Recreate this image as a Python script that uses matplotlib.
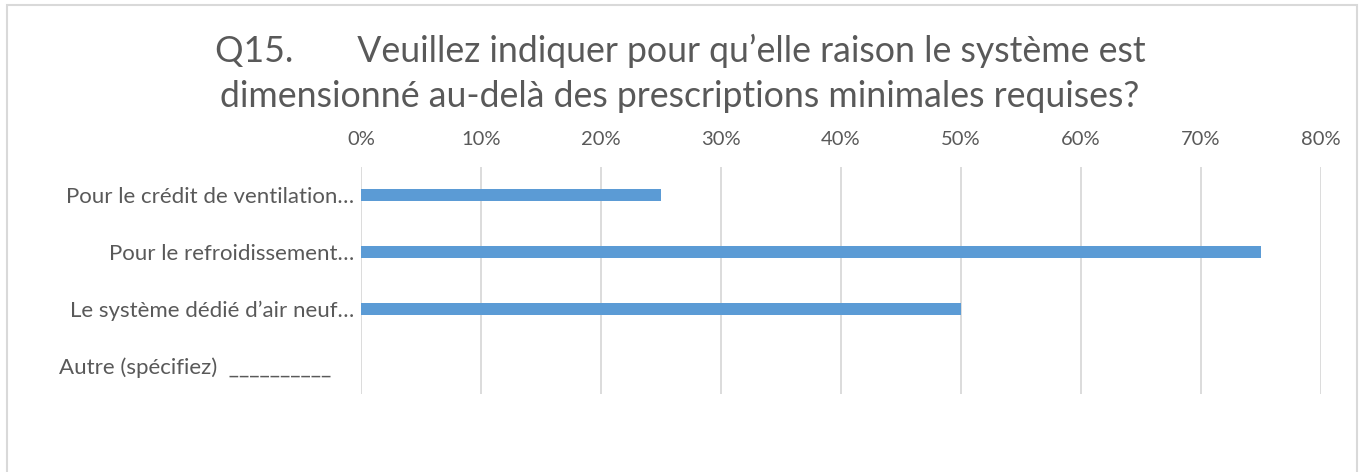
import matplotlib
matplotlib.use("Agg")
import matplotlib.pyplot as plt
from matplotlib.patches import Rectangle
from matplotlib.ticker import FuncFormatter, MultipleLocator

categories = ["Pour le crédit de ventilation…",
              "Pour le refroidissement…",
              "Le système dédié d’air neuf…",
              "Autre (spécifiez)  __________    "]
values = [0.25, 0.75, 0.50, 0.0]
title_lines = ["Q15.       Veuillez indiquer pour qu’elle raison le système est",
               "dimensionné au-delà des prescriptions minimales requises?"]

plt.rcParams['font.family'] = ['Lato', 'DejaVu Sans']
txt = '#595959'

W, H = 1359, 472
fig = plt.figure(figsize=(W / 100, H / 100), dpi=100)
fig.patch.set_facecolor('white')

# outer chart border
fig.add_artist(Rectangle((6.5 / W, -0.05), (1357 - 6.5) / W, 1.05 - 5.5 / H,
                         transform=fig.transFigure, fill=False,
                         edgecolor='#d9d9d9', linewidth=1.5))

left, right = 361 / W, 1321 / W
top, bottom = 1 - 167 / H, 1 - 394 / H
ax = fig.add_axes([left, bottom, right - left, top - bottom])

y = list(range(len(categories)))
ax.barh(y, values, height=0.21, color='#5b9bd5', zorder=3)
ax.set_yticks(y)
ax.set_yticklabels(categories, fontsize=16, color=txt)
ax.set_ylim(len(categories) - 0.5, -0.5)
ax.set_xlim(0, 0.8)
ax.xaxis.set_major_locator(MultipleLocator(0.1))
ax.xaxis.set_major_formatter(FuncFormatter(lambda v, p: f"{v * 100:.0f}%"))
ax.xaxis.tick_top()
ax.tick_params(axis='x', labelsize=14.5, colors=txt, length=0, pad=14)
ax.tick_params(axis='y', length=0, pad=5)
ax.grid(axis='x', color='#d9d9d9', linewidth=1.3, zorder=0)
for s in ax.spines.values():
    s.set_visible(False)

for line, base in zip(title_lines, [62, 107]):
    fig.text(680 / W, 1 - base / H, line, ha='center', va='baseline',
             fontsize=25.7, color=txt)

fig.savefig('out.png', dpi=100, facecolor='white')
